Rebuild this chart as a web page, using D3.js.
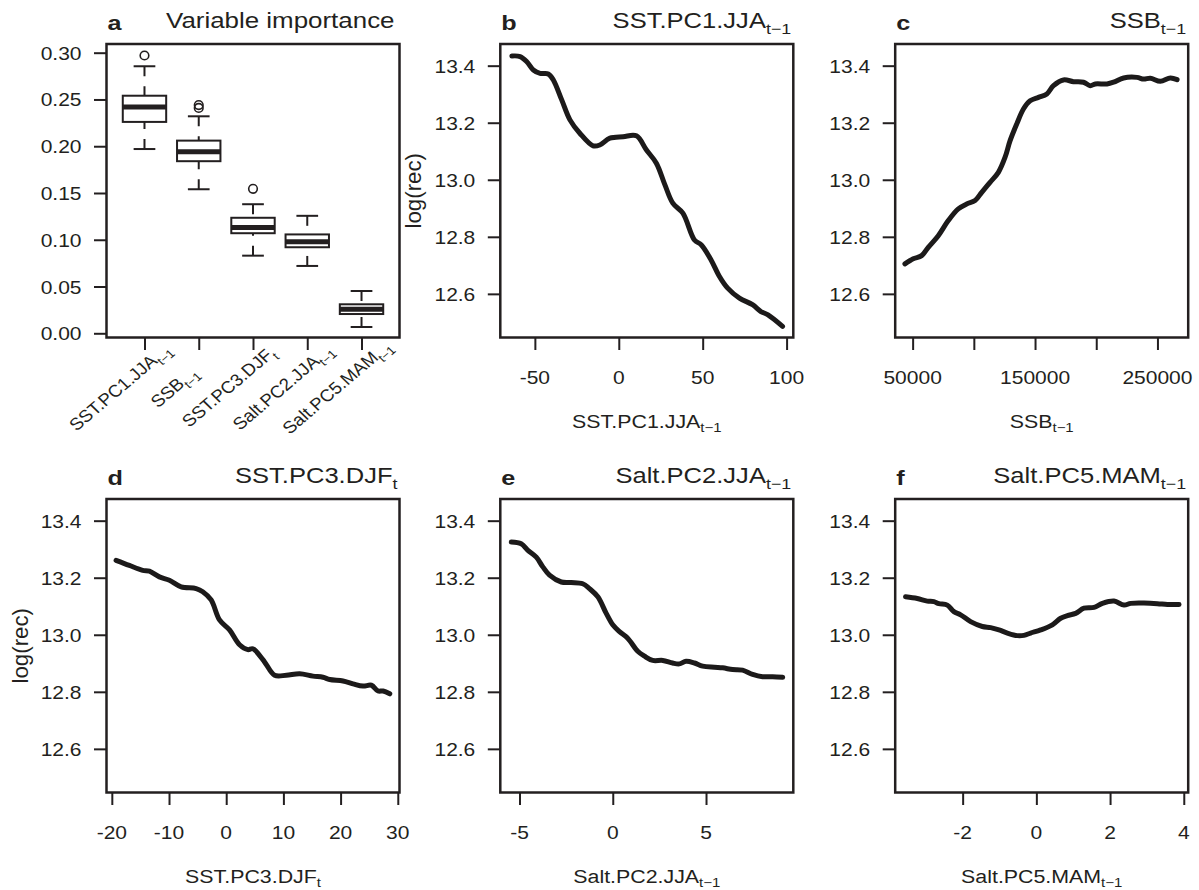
<!DOCTYPE html>
<html>
<head>
<meta charset="utf-8">
<script src="https://cdn.jsdelivr.net/npm/d3@7"></script>
<style>
  body { margin: 0; background: #fff; }
  svg text { font-family: "Liberation Sans", Arial, Helvetica, sans-serif; fill: #231f20; }
</style>
</head>
<body>
<div id="chart"></div>
<script>
// ---- data ----
var impNames = ["SST.PC1.JJA", "SSB", "SST.PC3.DJF", "Salt.PC2.JJA", "Salt.PC5.MAM"];
var impSubs  = ["t\u22121", "t\u22121", "t", "t\u22121", "t\u22121"];
var impLow   = [0.197, 0.154, 0.083, 0.072, 0.0067];
var impQ1    = [0.226, 0.184, 0.107, 0.092, 0.0206];
var impMed   = [0.242, 0.194, 0.113, 0.098, 0.0256];
var impQ3    = [0.254, 0.206, 0.1235, 0.1057, 0.031];
var impHigh  = [0.2855, 0.232, 0.138, 0.1256, 0.0452];
var impOut   = [[0.297], [0.244, 0.241], [0.1545], [], []];
var impTicks = [0, 0.05, 0.10, 0.15, 0.20, 0.25, 0.30];

var recTicks = [12.6, 12.8, 13.0, 13.2, 13.4];

var sstPc1X = [-63.7,-58.8,-54.8,-50.9,-46.9,-42,-39,-34,-29.1,-23.2,-15.3,-11.3,-5.3,2.6,10.5,16.4,22.4,27.5,32.2,38.2,45.1,49.1,55,60,64.9,71.9,79.7,84.7,88.7,97.6];
var sstPc1Y = [13.434,13.432,13.414,13.385,13.373,13.371,13.35,13.28,13.21,13.163,13.119,13.122,13.146,13.151,13.154,13.105,13.058,12.982,12.918,12.883,12.789,12.772,12.719,12.661,12.62,12.585,12.562,12.538,12.527,12.486];
var sstPc1Ticks = [-50, 0, 50, 100];

var ssbX = [43700,50500,57360,62770,70950,79130,87310,94190,100980,106460,113250,120050,125530,129620,135100,140500,145990,152780,159650,165050,173230,181420,189600,195090,199180,208750,214150,222340,233300,238700,244180,252360,260540,266030];
var ssbY = [12.705,12.723,12.734,12.763,12.804,12.857,12.898,12.915,12.927,12.956,12.991,13.026,13.079,13.137,13.196,13.248,13.277,13.289,13.301,13.330,13.350,13.344,13.342,13.330,13.336,13.336,13.342,13.357,13.359,13.353,13.356,13.345,13.357,13.351];
var ssbTicks = [50000, 100000, 150000, 200000, 250000];
var ssbTickLabels = ["50000", "", "150000", "", "250000"];

var sstPc3X = [-19.26,-16.93,-14.6,-13.43,-11.68,-9.93,-7.88,-5.25,-4.1,-2.63,-1.17,0.58,2.33,3.78,4.66,6.41,7.0,8.46,10.51,12.84,15.17,16.92,18.09,20.42,22.17,23.92,25.39,26.55,27.43,28.6];
var sstPc3Y = [13.261,13.243,13.226,13.223,13.203,13.191,13.168,13.162,13.151,13.122,13.052,13.017,12.965,12.948,12.951,12.913,12.896,12.858,12.858,12.863,12.855,12.851,12.843,12.838,12.828,12.820,12.823,12.803,12.803,12.793];
var sstPc3Ticks = [-20, -10, 0, 10, 20, 30];

var saltPc2X = [-5.44,-4.91,-4.55,-4.10,-3.75,-3.39,-2.76,-2.23,-1.61,-1.25,-0.80,-0.35,0,0.36,0.80,1.34,1.70,2.14,2.68,3.21,3.57,3.93,4.38,4.82,5.45,5.89,6.43,6.96,7.50,8.03,8.57,9.11];
var saltPc2Y = [13.325,13.319,13.296,13.272,13.238,13.209,13.185,13.183,13.179,13.162,13.133,13.075,13.035,13.011,12.988,12.942,12.925,12.910,12.910,12.901,12.898,12.907,12.901,12.890,12.886,12.884,12.878,12.876,12.861,12.853,12.853,12.851];
var saltPc2Ticks = [-5, 0, 5];

var saltPc5X = [-3.549,-3.231,-2.960,-2.780,-2.644,-2.417,-2.237,-2.055,-1.784,-1.466,-1.241,-1.015,-0.787,-0.516,-0.337,-0.155,0.117,0.434,0.66,0.842,1.067,1.292,1.564,1.792,2.107,2.378,2.560,2.921,3.285,3.557,3.872];
var saltPc5Y = [13.133,13.127,13.118,13.116,13.109,13.104,13.081,13.070,13.046,13.029,13.025,13.017,13.006,12.997,12.998,13.006,13.017,13.035,13.058,13.067,13.075,13.093,13.096,13.110,13.118,13.104,13.110,13.111,13.109,13.106,13.106];
var saltPc5Ticks = [-2, 0, 2, 4];

// ---- layout ----
var W = 1199, H = 890;
var SX = 1.2;            // glyphs in the original are stretched horizontally
var ink = "#231f20";
var cols = [106.5, 500.3, 895.2], rows = [44, 499];
var pw = 293, ph = 293.5;
var tickLen = 12.5;

var svg = d3.select("#chart").append("svg")
      .attr("width", W)
      .attr("height", H);

// text with an optional subscript; one matrix = translate * scale * rotate
function label(g, x, y, main, sub, o) {
      o = o || {};
      var size = o.size || 17.5;
      var sx = o.sx || SX, sy = o.sy || 1;
      var th = (o.rot || 0) * Math.PI / 180;
      var m = [sx * Math.cos(th), sy * Math.sin(th), -sx * Math.sin(th), sy * Math.cos(th), x, y];
      var t = g.append("text")
            .attr("transform", "matrix(" + m.join(" ") + ")")
            .attr("text-anchor", o.anchor || "middle")
            .attr("y", o.dy || 0)
            .style("font-size", size + "px")
            .style("font-weight", o.bold ? "bold" : null);
      t.append("tspan").text(main);
      if (sub) {
            t.append("tspan")
                  .attr("dy", size * (o.subShift || 0.3))
                  .style("font-size", (size * 0.7) + "px")
                  .text(sub);
      }
      return t;
}

function styleAxis(sel) {
      sel.select(".domain").remove();
      sel.selectAll("line").attr("stroke", ink).attr("stroke-width", 2);
      sel.selectAll("text").remove();
}

function frame(g, left, top) {
      g.append("rect")
            .attr("x", left).attr("y", top)
            .attr("width", pw).attr("height", ph)
            .attr("fill", "none")
            .attr("stroke", ink)
            .attr("stroke-width", 2.5);
}

// ---- panel a: boxplots ----
(function () {
      var left = cols[0], top = rows[0];
      var g = svg.append("g");
      var x = d3.scaleLinear().domain([0.3, 5.7]).range([left, left + pw]);
      var y = d3.scaleLinear().domain([-0.0045, 0.3093]).range([top + ph, top]);
      var hw = x(1.4) - x(1);

      impNames.forEach(function (name, i) {
            var cx = x(i + 1);
            // whiskers (dashed, from the cap towards the box)
            [[impHigh[i], impQ3[i]], [impLow[i], impQ1[i]]].forEach(function (w) {
                  g.append("line")
                        .attr("x1", cx).attr("x2", cx)
                        .attr("y1", y(w[0])).attr("y2", y(w[1]))
                        .attr("stroke", ink).attr("stroke-width", 2)
                        .attr("stroke-dasharray", "10,10");
                  g.append("line")
                        .attr("x1", cx - hw / 2).attr("x2", cx + hw / 2)
                        .attr("y1", y(w[0])).attr("y2", y(w[0]))
                        .attr("stroke", ink).attr("stroke-width", 2);
            });
            g.append("rect")
                  .attr("x", cx - hw).attr("width", 2 * hw)
                  .attr("y", y(impQ3[i])).attr("height", y(impQ1[i]) - y(impQ3[i]))
                  .attr("fill", "#fff").attr("stroke", ink).attr("stroke-width", 2);
            g.append("line")
                  .attr("x1", cx - hw).attr("x2", cx + hw)
                  .attr("y1", y(impMed[i])).attr("y2", y(impMed[i]))
                  .attr("stroke", ink).attr("stroke-width", 5);
            g.selectAll(null)
                  .data(impOut[i])
                  .enter().append("circle")
                  .attr("cx", cx)
                  .attr("cy", function (d) { return y(d); })
                  .attr("r", 4.3)
                  .attr("fill", "none").attr("stroke", ink).attr("stroke-width", 1.6);
            // rotated category label
            label(g, cx - 24, top + ph + 50, name, impSubs[i], { size: 17, sx: 1.1, rot: -43, dy: 5 });
      });

      frame(g, left, top);

      g.append("g")
            .attr("transform", "translate(" + left + ",0)")
            .call(d3.axisLeft(y).tickValues(impTicks).tickSize(tickLen))
            .call(styleAxis);
      g.append("g")
            .attr("transform", "translate(0," + (top + ph) + ")")
            .call(d3.axisBottom(x).tickValues([1, 2, 3, 4, 5]).tickSize(tickLen))
            .call(styleAxis);

      impTicks.forEach(function (v) {
            label(g, left - 25, y(v), d3.format(".2f")(v), null, { anchor: "end", dy: 7 });
      });

      label(g, left + 1, top - 14, "a", null, { anchor: "start", bold: true, size: 21 });
      label(g, left + pw - 5, top - 16, "Variable importance", null, { anchor: "end", size: 21.6 });
})();

// ---- panels b-f: partial dependence curves ----
var panels = [
      { letter: "b", col: 1, row: 0, name: "SST.PC1.JJA", sub: "t\u22121", xs: sstPc1X, ys: sstPc1Y,
        xdom: [-70.6, 104.0], ticks: sstPc1Ticks, ylab: true },
      { letter: "c", col: 2, row: 0, name: "SSB", sub: "t\u22121", xs: ssbX, ys: ssbY,
        xdom: [35760, 275120], ticks: ssbTicks, tickLabels: ssbTickLabels },
      { letter: "d", col: 0, row: 1, name: "SST.PC3.DJF", sub: "t", xs: sstPc3X, ys: sstPc3Y,
        xdom: [-20.93, 30.3], ticks: sstPc3Ticks, ylab: true },
      { letter: "e", col: 1, row: 1, name: "Salt.PC2.JJA", sub: "t\u22121", xs: saltPc2X, ys: saltPc2Y,
        xdom: [-6.03, 9.68], ticks: saltPc2Ticks },
      { letter: "f", col: 2, row: 1, name: "Salt.PC5.MAM", sub: "t\u22121", xs: saltPc5X, ys: saltPc5Y,
        xdom: [-3.83, 4.12], ticks: saltPc5Ticks }
];

panels.forEach(function (p) {
      var left = cols[p.col], top = rows[p.row];
      var g = svg.append("g");
      var x = d3.scaleLinear().domain(p.xdom).range([left, left + pw]);
      var y = d3.scaleLinear().domain([12.447, 13.476]).range([top + ph, top]);

      var pts = p.xs.map(function (v, i) { return [v, p.ys[i]]; });
      var line = d3.line()
            .x(function (d) { return x(d[0]); })
            .y(function (d) { return y(d[1]); })
            .curve(d3.curveCatmullRom.alpha(0.5));

      g.append("path")
            .attr("d", line(pts))
            .attr("fill", "none")
            .attr("stroke", "#1c1a1a")
            .attr("stroke-width", 5)
            .attr("stroke-linecap", "round")
            .attr("stroke-linejoin", "round");

      frame(g, left, top);

      g.append("g")
            .attr("transform", "translate(" + left + ",0)")
            .call(d3.axisLeft(y).tickValues(recTicks).tickSize(tickLen))
            .call(styleAxis);
      g.append("g")
            .attr("transform", "translate(0," + (top + ph) + ")")
            .call(d3.axisBottom(x).tickValues(p.ticks).tickSize(tickLen))
            .call(styleAxis);

      recTicks.forEach(function (v) {
            label(g, left - 25, y(v), d3.format(".1f")(v), null, { anchor: "end", dy: 7 });
      });
      p.ticks.forEach(function (v, i) {
            var txt = p.tickLabels ? p.tickLabels[i] : String(v);
            if (txt) label(g, x(v), top + ph + 46.5, txt, null, {});
      });

      // x axis title
      label(g, left + pw / 2, top + ph + 90.5, p.name, p.sub, { size: 17.8, subShift: 0.22 });
      // y axis title
      if (p.ylab) {
            label(g, left - 85, top + ph / 2, "log(rec)", null, { rot: -90, sy: 1.25, dy: 5, size: 17.8 });
      }
      // panel letter and title
      label(g, left + 1, top - 14, p.letter, null, { anchor: "start", bold: true, size: 21 });
      label(g, left + pw - 2, top - 16, p.name, p.sub, { anchor: "end", size: 21.3 });
});
</script>
</body>
</html>
